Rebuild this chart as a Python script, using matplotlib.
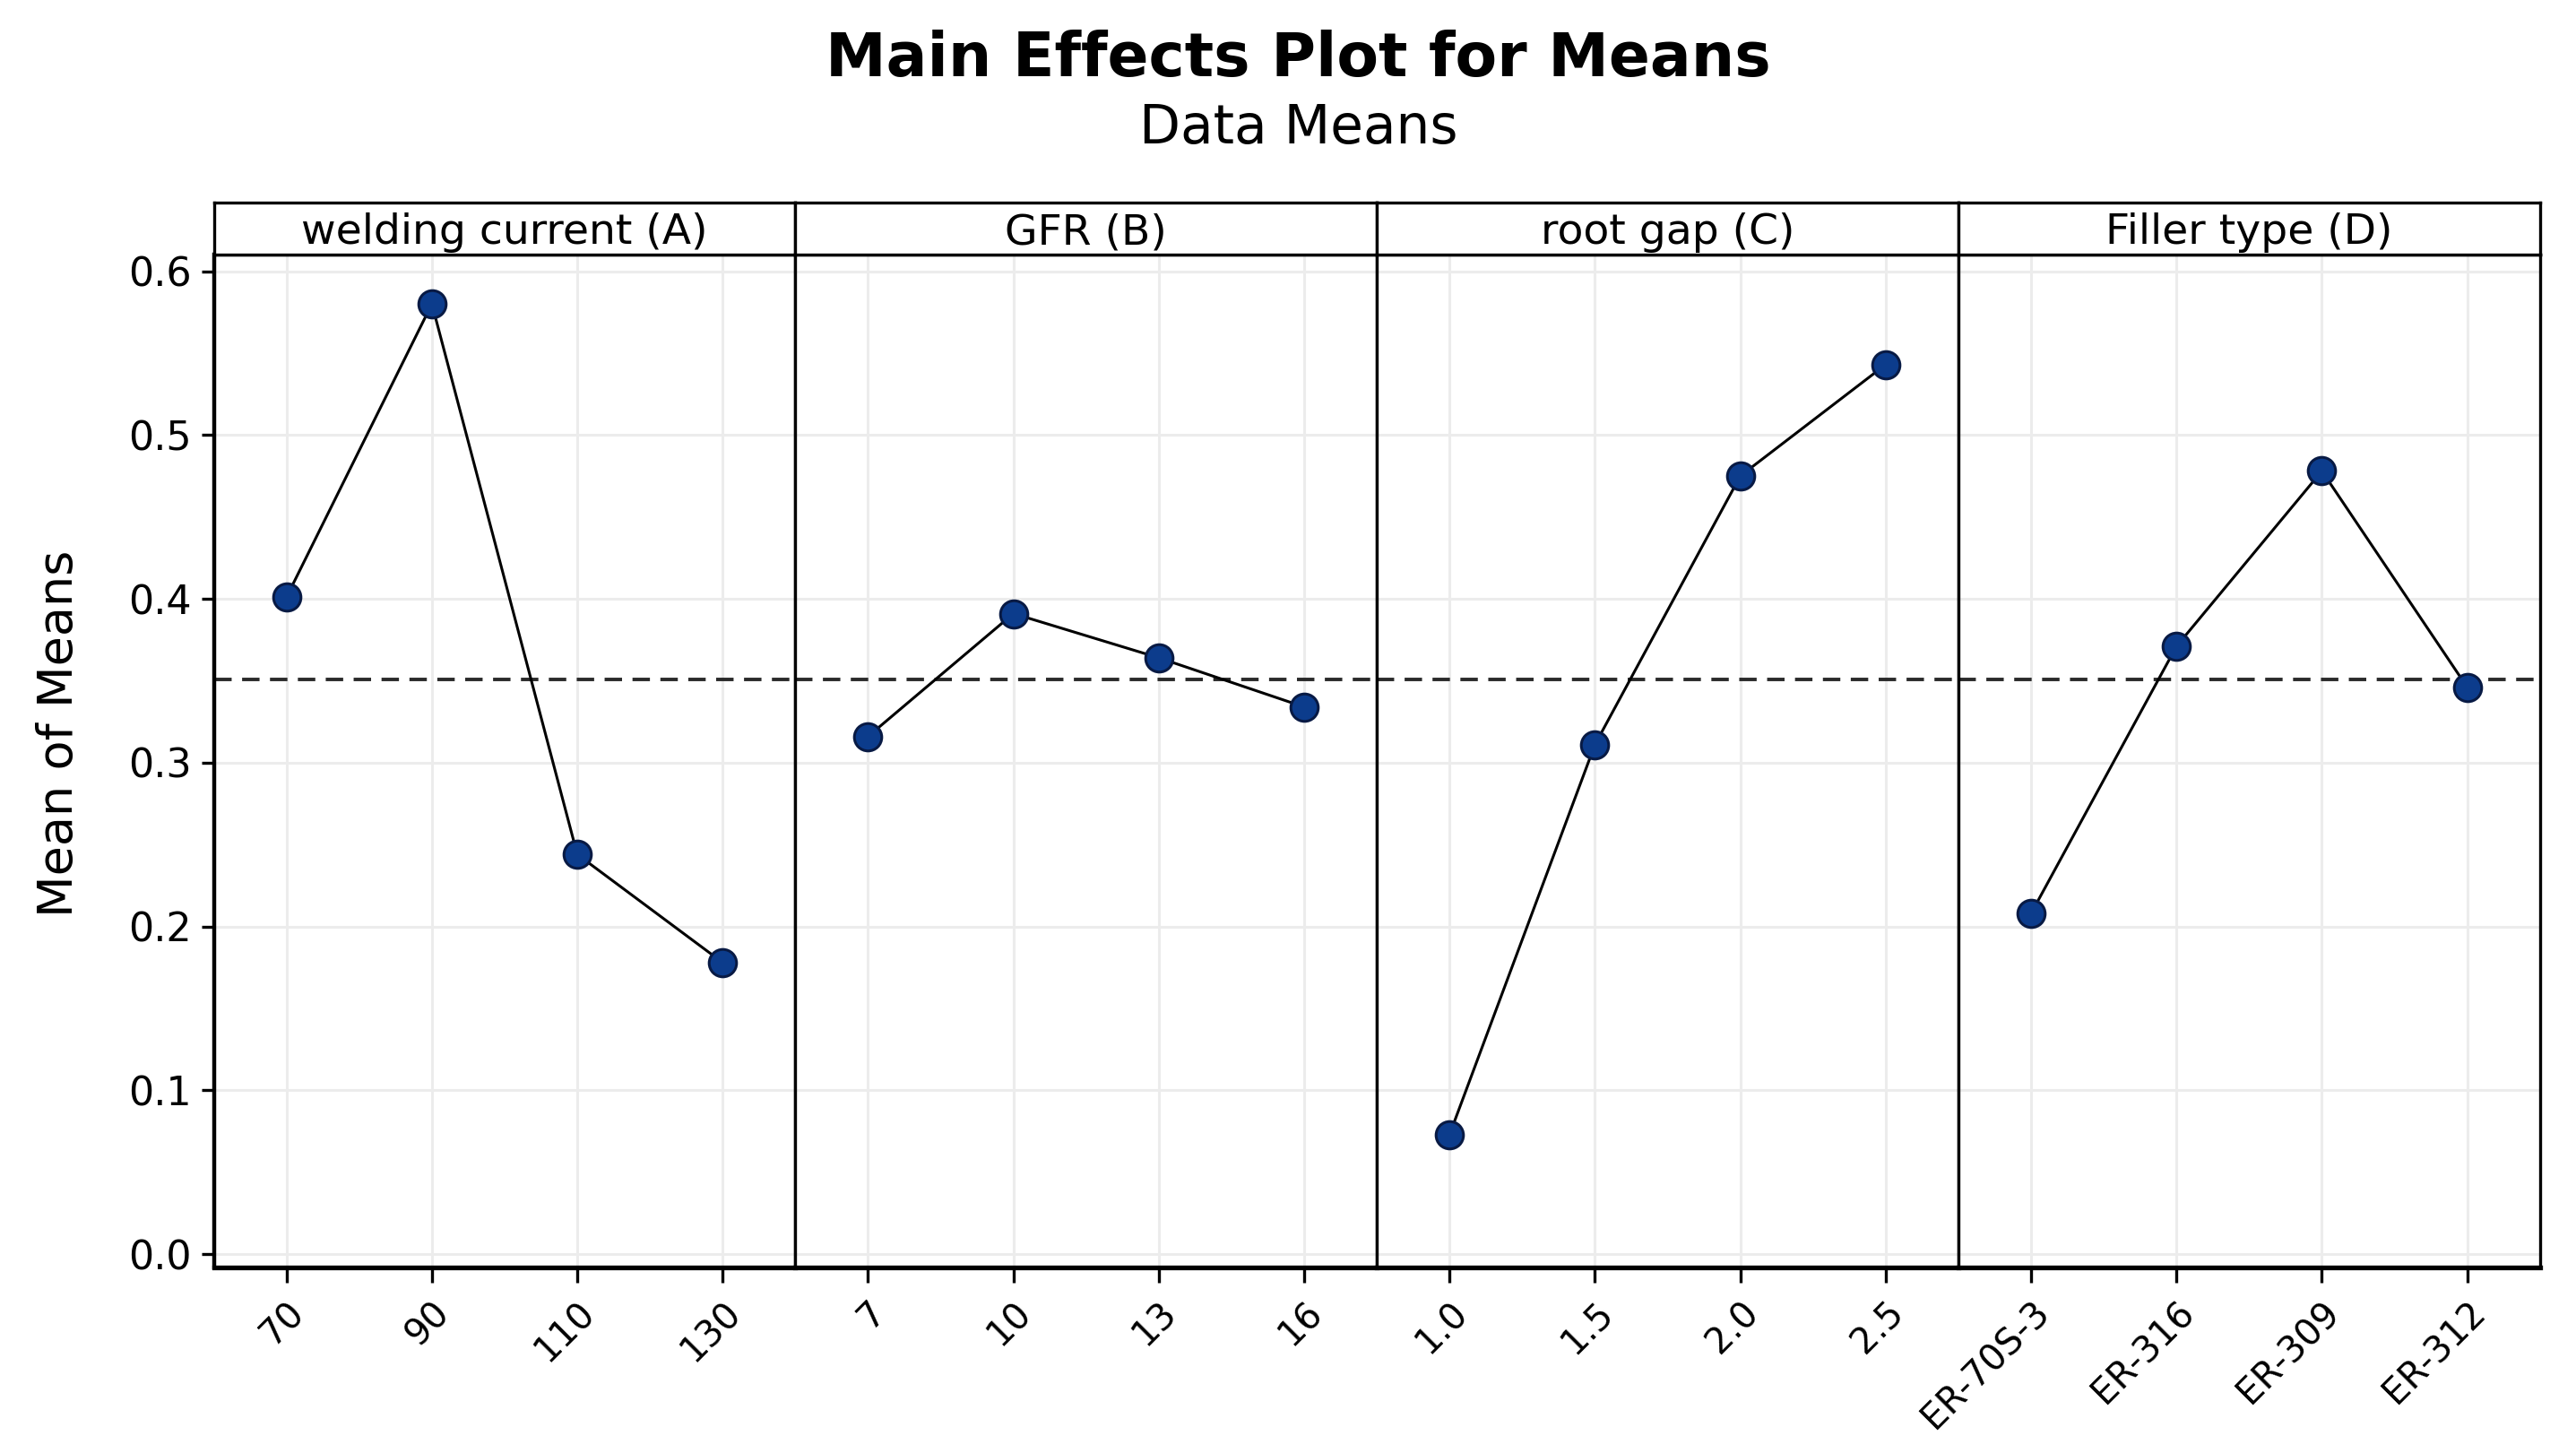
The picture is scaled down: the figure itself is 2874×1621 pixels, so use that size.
import matplotlib
matplotlib.use("Agg")
import matplotlib.pyplot as plt
import numpy as np

plt.rcParams['font.family'] = ['DejaVu Sans']

# factor names and levels
factors = ["welding current (A)", "GFR (B)", "root gap (C)", "Filler type (D)"]
levels_a = ["70", "90", "110", "130"]
levels_b = ["7", "10", "13", "16"]
levels_c = ["1.0", "1.5", "2.0", "2.5"]
levels_d = ["ER-70S-3", "ER-316", "ER-309", "ER-312"]

# mean of means
means_a = [0.401, 0.580, 0.244, 0.178]
means_b = [0.316, 0.391, 0.364, 0.334]
means_c = [0.073, 0.311, 0.475, 0.543]
means_d = [0.208, 0.371, 0.478, 0.346]

grand_mean = 0.351

levels = [levels_a, levels_b, levels_c, levels_d]
means = [means_a, means_b, means_c, means_d]

W, H = 2874, 1621
fig = plt.figure(figsize=(W / 100, H / 100), dpi=100)

left = 0.083
pw = (0.986 - 0.083) / 4
bottom = 1 - 771 / 884
top = 1 - 155 / 884
strip_h = (155 - 123) / 884

for i in range(4):
    ax = fig.add_axes([left + i * pw, bottom, pw, top - bottom])
    x = np.arange(len(levels[i]))
    ax.axhline(grand_mean, color='#2a2a2a', lw=2.8, ls=(0, (5, 3)), zorder=2)
    ax.plot(x, means[i], color='black', lw=2.2, zorder=3)
    ax.plot(x, means[i], 'o', ms=22, mfc='#0c3c8c', mec='#081a44', mew=2.2, zorder=4)
    ax.set_xlim(-0.5, 3.5)
    ax.set_ylim(-0.008, 0.61)
    ax.set_xticks(x)
    ax.set_xticklabels(levels[i], rotation=45, ha='right', rotation_mode='anchor', fontsize=29)
    ax.set_yticks(np.arange(0, 0.61, 0.1))
    ax.grid(True, color='#ececec', lw=2.2, zorder=0)
    ax.set_axisbelow(True)
    ax.tick_params(axis='x', length=12, width=2.4, pad=10)
    ax.tick_params(axis='y', length=10, width=2.4, pad=8, labelsize=32)
    for s in ax.spines.values():
        s.set_linewidth(2.4)
    ax.spines['bottom'].set_linewidth(3.8)
    if i == 0:
        ax.spines['left'].set_linewidth(3.2)
        ax.set_yticklabels(["%.1f" % v for v in np.arange(0, 0.61, 0.1)])
    else:
        ax.tick_params(axis='y', left=False, labelleft=False)

    # strip on top of each panel
    st = fig.add_axes([left + i * pw, top, pw, strip_h])
    st.set_xticks([])
    st.set_yticks([])
    for s in st.spines.values():
        s.set_linewidth(2.4)
    st.text(0.5, 0.42, factors[i], ha='center', va='center', fontsize=34, transform=st.transAxes)

fig.text(0.023, 1 - 446 / 884, "Mean of Means", rotation=90, ha='center', va='center', fontsize=39)
fig.text(0.5 + 0.004, 1 - 36 / 884, "Main Effects Plot for Means", ha='center', va='center',
         fontsize=49, fontweight='bold')
fig.text(0.5 + 0.004, 1 - 78 / 884, "Data Means", ha='center', va='center', fontsize=43)

fig.savefig("out.png", dpi=100)
